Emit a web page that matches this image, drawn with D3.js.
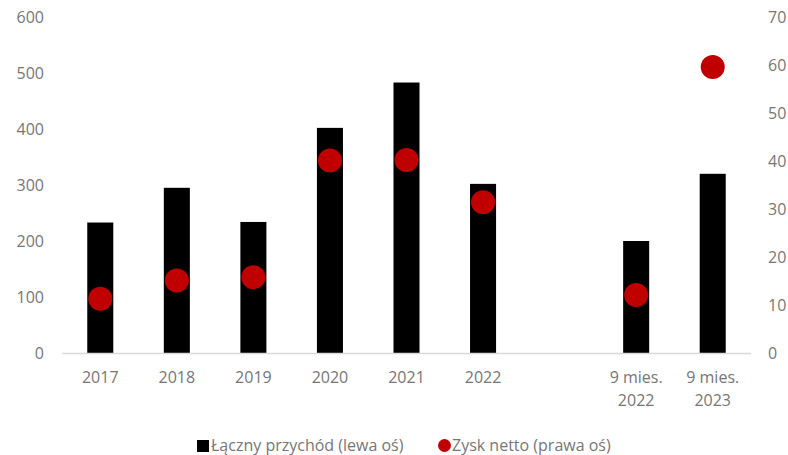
<!DOCTYPE html>
<html>
<head>
<meta charset="utf-8">
<script src="https://cdn.jsdelivr.net/npm/d3@7"></script>
<style>
  html, body { margin: 0; padding: 0; background: #fff; }
  svg { display: block; font-family: "Open Sans", "Noto Sans", sans-serif; }
</style>
</head>
<body>
<svg id="chart" width="788" height="455"></svg>
<script>
// Categories (the empty slot separates full years from 9-month periods)
const categories = ["2017", "2018", "2019", "2020", "2021", "2022", "", "9 mies.\n2022", "9 mies.\n2023"];
// Total revenue (left axis)
const revenue = [233, 295, 234, 402, 483, 302, null, 200, 320];
// Net profit (right axis)
const profit = [11.3, 15.1, 15.8, 40.1, 40.2, 31.4, null, 12.1, 59.6];
const leftTicks = [0, 100, 200, 300, 400, 500, 600];
const rightTicks = [0, 10, 20, 30, 40, 50, 60, 70];
const legendLabels = ["Łączny przychód (lewa oś)", "Zysk netto (prawa oś)"];

const svg = d3.select("#chart");
const textColor = "#767676";
const plot = { left: 62, right: 751, top: 17, bottom: 353 };

const x = d3.scaleBand()
  .domain(d3.range(categories.length))
  .range([plot.left, plot.right])
  .paddingInner(0.66)
  .paddingOuter(0.33);

const yLeft = d3.scaleLinear().domain([0, 600]).range([plot.bottom, plot.top]);
const yRight = d3.scaleLinear().domain([0, 70]).range([plot.bottom, plot.top]);

// Left axis labels
const la = svg.append("g")
  .attr("transform", `translate(${plot.left - 18},0)`)
  .call(d3.axisLeft(yLeft).tickValues(leftTicks).tickSize(0).tickPadding(0));
la.select(".domain").remove();
la.selectAll("text").attr("fill", textColor).attr("font-size", 16)
  .attr("font-family", "Open Sans, sans-serif");

// Right axis labels
const ra = svg.append("g")
  .attr("transform", `translate(${plot.right + 17},0)`)
  .call(d3.axisRight(yRight).tickValues(rightTicks).tickSize(0).tickPadding(0));
ra.select(".domain").remove();
ra.selectAll("text").attr("fill", textColor).attr("font-size", 16)
  .attr("font-family", "Open Sans, sans-serif");

// Bars
svg.append("g").selectAll("rect")
  .data(revenue.map((v, i) => ({ v, i })).filter(d => d.v != null))
  .join("rect")
  .attr("x", d => x(d.i))
  .attr("width", x.bandwidth())
  .attr("y", d => yLeft(d.v))
  .attr("height", d => yLeft(0) - yLeft(d.v))
  .attr("fill", "#000");

// Baseline
svg.append("line")
  .attr("x1", plot.left).attr("x2", plot.right)
  .attr("y1", yLeft(0) + 0.5).attr("y2", yLeft(0) + 0.5)
  .attr("stroke", "#d9d9d9").attr("stroke-width", 1.5);

// Profit markers
svg.append("g").selectAll("circle")
  .data(profit.map((v, i) => ({ v, i })).filter(d => d.v != null))
  .join("circle")
  .attr("cx", d => x(d.i) + x.bandwidth() / 2)
  .attr("cy", d => yRight(d.v))
  .attr("r", 12)
  .attr("fill", "#c00000");

// Category labels (multi-line)
const xl = svg.append("g").selectAll("text")
  .data(categories.map((c, i) => ({ c, i })))
  .join("text")
  .attr("x", d => x(d.i) + x.bandwidth() / 2)
  .attr("y", 383)
  .attr("text-anchor", "middle")
  .attr("fill", textColor)
  .attr("font-size", 16);
xl.selectAll("tspan")
  .data(d => d.c.split("\n").map(s => ({ s, x: x(d.i) + x.bandwidth() / 2 })))
  .join("tspan")
  .attr("x", t => t.x)
  .attr("dy", (t, j) => j === 0 ? 0 : 23)
  .text(t => t.s);

// Legend
const lg = svg.append("g").attr("font-size", 16).attr("fill", textColor);
lg.append("rect").attr("x", 197).attr("y", 440).attr("width", 12).attr("height", 12).attr("fill", "#000");
lg.append("text").attr("x", 211).attr("y", 450.5).text(legendLabels[0]);
lg.append("circle").attr("cx", 444.5).attr("cy", 445.5).attr("r", 6.5).attr("fill", "#c00000");
lg.append("text").attr("x", 452).attr("y", 450.5).text(legendLabels[1]);
</script>
</body>
</html>
